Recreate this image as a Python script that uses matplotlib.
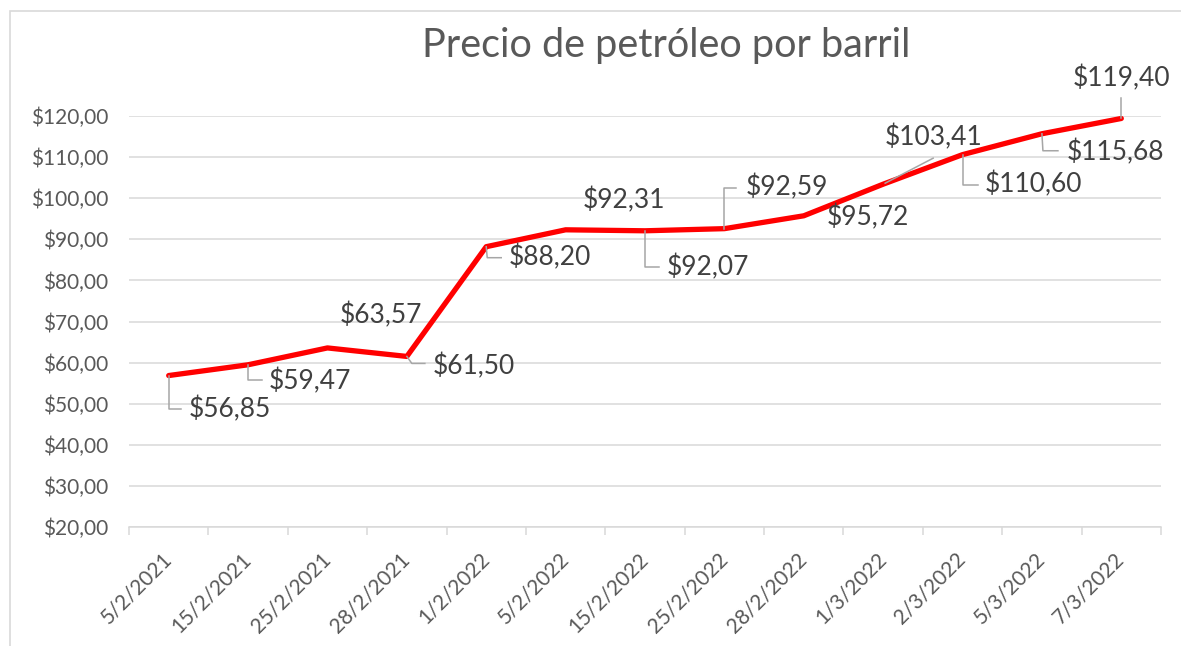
import matplotlib
matplotlib.use("Agg")
import matplotlib.pyplot as plt
import matplotlib.transforms as mtransforms
from matplotlib.patches import Rectangle

plt.rcParams['font.family'] = ['Lato', 'DejaVu Sans']

# datos
fechas = ['5/2/2021', '15/2/2021', '25/2/2021', '28/2/2021', '1/2/2022', '5/2/2022',
          '15/2/2022', '25/2/2022', '28/2/2022', '1/3/2022', '2/3/2022', '5/3/2022', '7/3/2022']
precios = [56.85, 59.47, 63.57, 61.50, 88.20, 92.31, 92.07, 92.59, 95.72, 103.41, 110.60, 115.68, 119.40]
y_ticks = [20, 30, 40, 50, 60, 70, 80, 90, 100, 110, 120]

# posición de cada etiqueta (desplazamiento en píxeles) y su línea guía
offsets = [(61, -34), (62, -16), (53, 33), (67, -10), (64, -11), (58, 30), (63, -36),
           (62, 41), (64, -1), (50, 47), (71, -30), (74, -18), (0, 40)]
guias = [
    [(0, 0), (0, -33), (12, -33)],
    [(0, 0), (0, -15), (14, -15)],
    None,
    [(0, 0), (5, -7), (18, -7)],
    [(0, 0), (1, -11), (15, -11)],
    None,
    [(0, 0), (0, -36), (14, -36)],
    [(0, 0), (0, 41), (12, 41)],
    None,
    [(2, 1), (50, 26)],
    [(0, 0), (0, -30), (15, -30)],
    [(0, 0), (1, -17), (16, -17)],
    [(0, 0), (0, 20)],
]

fig = plt.figure(figsize=(11.81, 6.46), dpi=100)
ax = fig.add_axes([129 / 1181, 119 / 646, 1032 / 1181, 411 / 646])

x = list(range(len(precios)))
ax.plot(x, precios, color='#FF0000', linewidth=3.8, solid_capstyle='round', zorder=3)

for i, (v, (dx, dy)) in enumerate(zip(precios, offsets)):
    ax.annotate(f"${v:.2f}".replace('.', ','), (i, v), xytext=(dx * 0.72, dy * 0.72),
                textcoords='offset points', ha='center', va='center',
                fontsize=19, color='#404040', zorder=5)
    if guias[i] is not None:
        # guía en píxeles, relativa al punto
        tr = mtransforms.ScaledTranslation(i, v, ax.transData)
        gx = [p[0] for p in guias[i]]
        gy = [p[1] for p in guias[i]]
        ax.plot(gx, gy, color='#a6a6a6', linewidth=1.1, transform=tr, zorder=4, clip_on=False)

ax.set_xlim(-0.5, len(precios) - 0.5)
ax.set_ylim(20, 120)
ax.set_yticks(y_ticks)
ax.set_yticklabels([f"${t},00" for t in y_ticks], fontsize=15, color='#595959')
ax.tick_params(axis='y', length=0, pad=15)
ax.grid(axis='y', color='#d9d9d9', linewidth=1.1)
ax.set_axisbelow(True)

ax.set_xticks(x)
ax.set_xticklabels(fechas, rotation=45, ha='right', va='center', rotation_mode='anchor',
                   fontsize=15, color='#595959')
ax.tick_params(axis='x', which='major', length=0, pad=21)
ax.set_xticks([i - 0.5 for i in range(len(precios) + 1)], minor=True)
ax.tick_params(axis='x', which='minor', length=6, color='#d9d9d9', width=1.1)

for s in ['top', 'right', 'left']:
    ax.spines[s].set_visible(False)
ax.spines['bottom'].set_color('#d9d9d9')
ax.spines['bottom'].set_linewidth(1.1)

fig.text(666 / 1181, 1 - 45 / 646, 'Precio de petróleo por barril', ha='center', va='center',
         fontsize=28.5, color='#595959')

fig.patches.append(Rectangle((10 / 1181, -0.1), 1.2, 1 - 11 / 646 + 0.1, transform=fig.transFigure,
                             fill=False, edgecolor='#d9d9d9', linewidth=1.2))

fig.savefig('out.png', dpi=100)
